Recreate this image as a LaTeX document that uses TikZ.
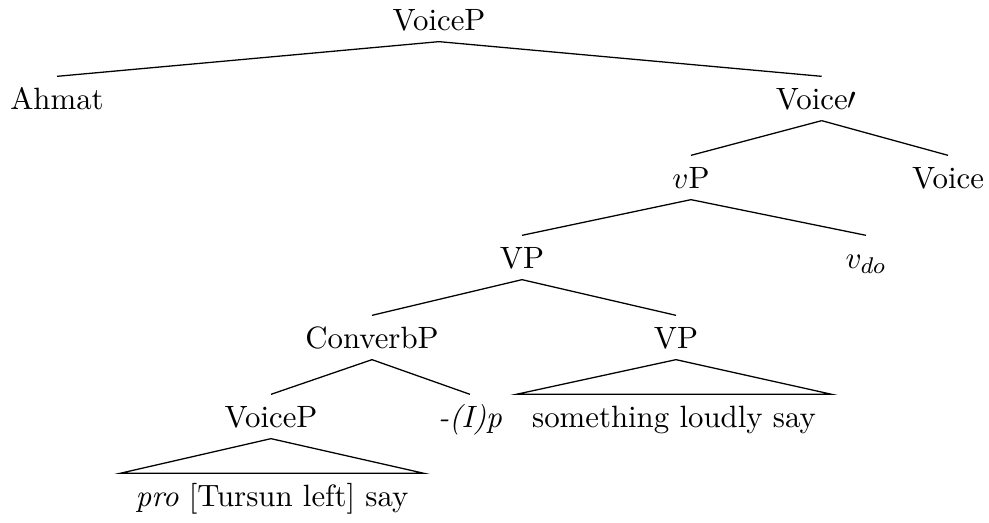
\documentclass[tikz,border=0pt]{standalone}
\begin{document}
\begin{tikzpicture}[x=0.352pt,y=-0.352pt,
  font=\fontsize{10.85pt}{13pt}\selectfont,
  lbl/.style={inner sep=0pt, text height=11.3pt, text depth=3.9pt, anchor=base},
  br/.style={line width=0.45pt}]
\useasboundingbox (0,0) rectangle (989,522);
% nodes
\node[lbl] (root) at (439,30) {VoiceP};
\node[lbl] (ahmat) at (57,109) {Ahmat};
\node[lbl] (vbar) at (816,109) {Voice$\prime$};
\node[lbl] (vP) at (691,188) {$v$P};
\node[lbl] (voice) at (948,188) {Voice};
\node[lbl] (VPa) at (522,268) {VP};
\node[lbl] (vdo) at (866,268) {$v_{do}$};
\node[lbl] (conv) at (372,348) {ConverbP};
\node[lbl] (VPb) at (676,348) {VP};
\node[lbl] (voicep) at (271,427) {VoiceP};
\node[lbl] (ip) at (470,427) {\textit{-(I)p}};
\node[lbl, inner xsep=5.4pt] (sls) at (674,427) {something loudly say};
\node[lbl, inner xsep=5.3pt] (pro) at (272,506) {\textit{pro} [Tursun left] say};
% branches
\draw[br] (root.south) -- (ahmat.north);
\draw[br] (root.south) -- ([xshift=2pt]vbar.north);
\draw[br] ([xshift=2pt]vbar.south) -- (vP.north);
\draw[br] ([xshift=2pt]vbar.south) -- (voice.north);
\draw[br] (vP.south) -- (VPa.north);
\draw[br] (vP.south) -- (vdo.north);
\draw[br] (VPa.south) -- (conv.north);
\draw[br] (VPa.south) -- (VPb.north);
\draw[br] (conv.south) -- (voicep.north);
\draw[br] (conv.south) -- (ip.north);
\draw[br] (VPb.south) -- (sls.north west) -- (sls.north east) -- cycle;
\draw[br] (voicep.south) -- (pro.north west) -- (pro.north east) -- cycle;
\end{tikzpicture}
\end{document}
